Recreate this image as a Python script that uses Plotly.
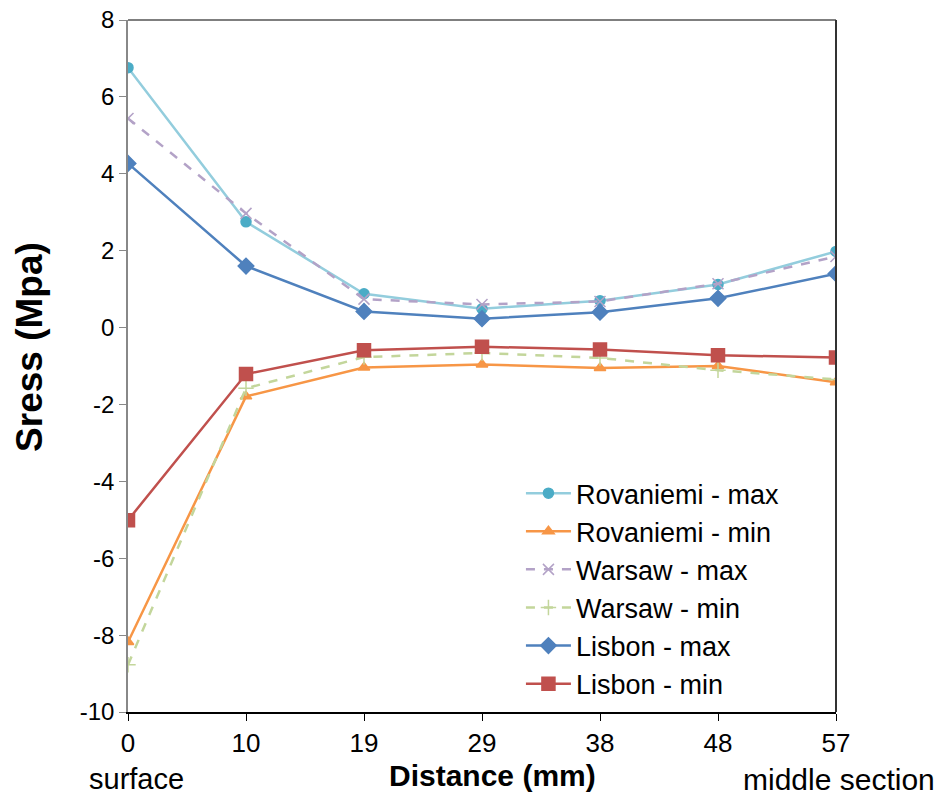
import plotly.graph_objects as go

distance_labels = ["0", "10", "19", "29", "38", "48", "57"]
y_ticks = [-10, -8, -6, -4, -2, 0, 2, 4, 6, 8]

rovaniemi_max = [6.76, 2.75, 0.88, 0.49, 0.70, 1.12, 1.98]
rovaniemi_min = [-8.18, -1.79, -1.04, -0.96, -1.05, -1.00, -1.42]
warsaw_max = [5.44, 2.97, 0.74, 0.60, 0.68, 1.14, 1.85]
warsaw_min = [-8.77, -1.58, -0.77, -0.66, -0.79, -1.11, -1.35]
lisbon_max = [4.27, 1.60, 0.42, 0.23, 0.40, 0.76, 1.40]
lisbon_min = [-5.01, -1.21, -0.59, -0.50, -0.57, -0.72, -0.78]

series = [
    ("Rovaniemi - max", rovaniemi_max, "#93CDDD", "#4BACC6", "circle", 10, "solid"),
    ("Rovaniemi - min", rovaniemi_min, "#F79646", "#F79646", "triangle-up", 10, "solid"),
    ("Warsaw - max", warsaw_max, "#B3A2C7", "#B3A2C7", "x-thin-open", 11, "dash"),
    ("Warsaw - min", warsaw_min, "#C3D69B", "#C3D69B", "cross-thin-open", 11, "dash"),
    ("Lisbon - max", lisbon_max, "#4F81BD", "#4F81BD", "diamond", 12, "solid"),
    ("Lisbon - min", lisbon_min, "#C0504D", "#C0504D", "square", 13, "solid"),
]

x_idx = list(range(len(distance_labels)))

fig = go.Figure()
for name, vals, lc, mc, sym, size, dash in series:
    fig.add_trace(go.Scatter(
        x=x_idx, y=vals, name=name, mode="lines+markers",
        line=dict(color=lc, width=2.5, dash=dash),
        marker=dict(symbol=sym, size=size, color=mc, line=dict(color=mc, width=1.5)),
    ))

font_main = "Liberation Sans, Arial, sans-serif"

fig.update_layout(
    width=944, height=800,
    margin=dict(l=120, r=116, t=12, b=96, autoexpand=False),
    paper_bgcolor="white", plot_bgcolor="white",
    font=dict(family=font_main, size=24, color="black"),
    showlegend=True,
    legend=dict(
        x=0.555, y=0.351, xanchor="left", yanchor="top",
        bgcolor="rgba(255,255,255,0)", borderwidth=0,
        font=dict(family=font_main, size=27, color="black"),
        itemwidth=45,
    ),
    xaxis=dict(
        range=[0, 6], tickvals=x_idx, ticktext=distance_labels,
        showgrid=False, zeroline=False, automargin=False,
        ticklabeloverflow="allow",
        showline=True, linecolor="black", linewidth=1.5,
        ticks="outside", ticklen=7, tickcolor="black",
        tickfont=dict(family=font_main, size=26, color="black"),
    ),
    yaxis=dict(
        range=[-10, 8], tickvals=y_ticks, ticktext=[str(v) for v in y_ticks],
        showgrid=False, zeroline=False, automargin=False,
        ticklabeloverflow="allow",
        showline=True, linecolor="#888888", linewidth=1.5,
        ticks="outside", ticklen=7, tickcolor="#888888",
        tickfont=dict(family=font_main, size=24, color="black"),
    ),
    shapes=[
        dict(type="line", xref="paper", yref="paper", x0=0, x1=1, y0=1, y1=1,
             line=dict(color="#555555", width=1.5)),
        dict(type="line", xref="paper", yref="paper", x0=1, x1=1, y0=0, y1=1,
             line=dict(color="#333333", width=2)),
    ],
    annotations=[
        dict(text="<b>Sress (Mpa)</b>", xref="paper", yref="paper",
             x=-0.139, y=0.527, textangle=-90, showarrow=False,
             font=dict(family=font_main, size=37, color="black"),
             xanchor="center", yanchor="middle"),
        dict(text="<b>Distance (mm)</b>", xref="paper", yref="paper",
             x=0.515, y=-0.092, showarrow=False,
             font=dict(family=font_main, size=30, color="black"),
             xanchor="center", yanchor="middle"),
        dict(text="surface", xref="paper", yref="paper",
             x=0.012, y=-0.097, showarrow=False,
             font=dict(family=font_main, size=29, color="black"),
             xanchor="center", yanchor="middle"),
        dict(text="middle section", xref="paper", yref="paper",
             x=1.004, y=-0.097, showarrow=False,
             font=dict(family=font_main, size=30, color="black"),
             xanchor="center", yanchor="middle"),
    ],
)

fig.write_html("out.html")
